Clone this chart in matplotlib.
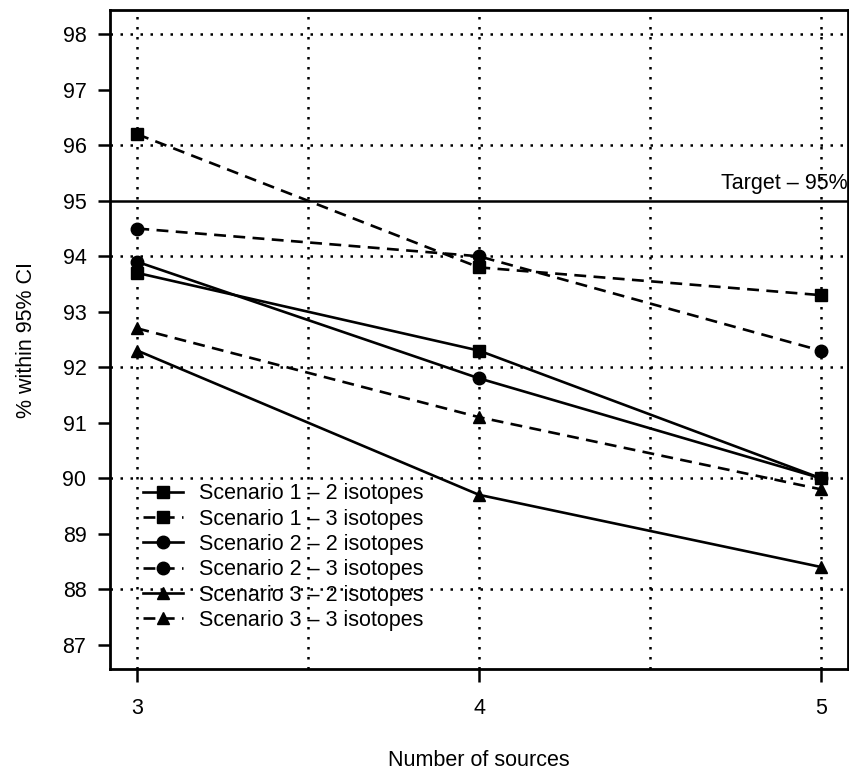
import matplotlib
matplotlib.use("Agg")
import matplotlib.pyplot as plt

plt.rcParams['font.family'] = ['Liberation Sans', 'DejaVu Sans']

# Data
sources = [3, 4, 5]
s1_2iso = [93.7, 92.3, 90.0]
s1_3iso = [96.2, 93.8, 93.3]
s2_2iso = [93.9, 91.8, 90.0]
s2_3iso = [94.5, 94.0, 92.3]
s3_2iso = [92.3, 89.7, 88.4]
s3_3iso = [92.7, 91.1, 89.8]
target = 95

series = [
    ("Scenario 1 \u2013 2 isotopes", s1_2iso, 's', '-'),
    ("Scenario 1 \u2013 3 isotopes", s1_3iso, 's', '--'),
    ("Scenario 2 \u2013 2 isotopes", s2_2iso, 'o', '-'),
    ("Scenario 2 \u2013 3 isotopes", s2_3iso, 'o', '--'),
    ("Scenario 3 \u2013 2 isotopes", s3_2iso, '^', '-'),
    ("Scenario 3 \u2013 3 isotopes", s3_3iso, '^', '--'),
]

fig = plt.figure(figsize=(8.49, 7.71), dpi=100)
ax = fig.add_axes([110/849, 1 - 669/771, 738/849, 659/771])

# grid
for gx in [3, 3.5, 4, 4.5, 5]:
    ax.axvline(gx, color='black', linestyle=(0, (1, 3)), linewidth=1.8, zorder=1)
for gy in [88, 90, 92, 94, 96, 98]:
    ax.axhline(gy, color='black', linestyle=(0, (1, 3)), linewidth=1.8, zorder=1)

ax.axhline(target, color='black', linewidth=1.8, zorder=2)
ax.text(5.079, target + 0.12, "Target \u2013 95%", ha='right', va='bottom', fontsize=15.5)

for label, vals, mk, ls in series:
    ax.plot(sources, vals, color='black', marker=mk, linestyle=ls if ls == '-' else (0, (4.5, 2.8)),
            linewidth=1.9, markersize=9, label=label, zorder=3)

ax.set_xlim(2.92, 5.08)
ax.set_ylim(86.56, 98.44)
ax.set_xticks(sources)
ax.set_yticks(range(87, 99))
ax.tick_params(direction='out', length=9, width=1.8, labelsize=15.5, pad=8)
ax.tick_params(axis='x', pad=12)
for sp in ax.spines.values():
    sp.set_linewidth(2.0)

ax.set_xlabel("Number of sources", fontsize=15.5, labelpad=22)
ax.set_ylabel("% within 95% CI", fontsize=15.5, labelpad=18)

ax.legend(loc='upper left', bbox_to_anchor=(0.03, 0.298), frameon=False, fontsize=15.5,
          handlelength=1.85, handletextpad=0.75, labelspacing=0.2, borderpad=0)

fig.savefig("out.png", dpi=100)
